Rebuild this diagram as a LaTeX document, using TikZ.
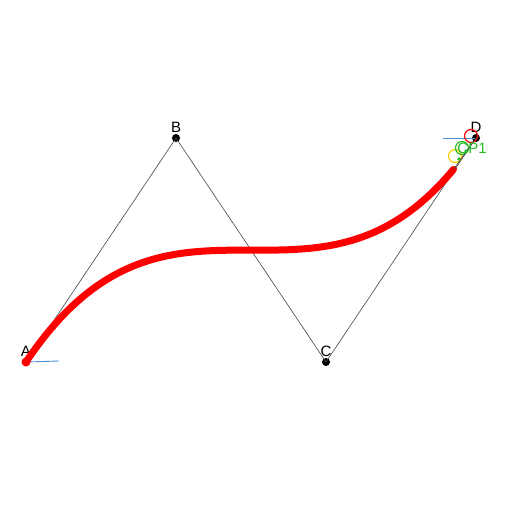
\documentclass[tikz,border=0pt]{standalone}
\usepackage{fontspec}
\setmainfont{Liberation Sans}
\usetikzlibrary{positioning}
\definecolor{curvered}{HTML}{FF0000}
\definecolor{tangentblue}{HTML}{4A90D9}
\definecolor{cpgreen}{HTML}{22BB22}
\definecolor{cpyellow}{HTML}{FFCC00}
\definecolor{polygray}{HTML}{444444}

\begin{document}
\begin{tikzpicture}[
  x=1pt, y=-1pt,
  font=\fontsize{15}{15}\selectfont,
  ptdot/.style={circle, fill=black, inner sep=0pt, minimum size=8pt},
  ptlabel/.style={inner sep=1pt, anchor=south},
  polyline/.style={draw=polygray, line width=0.6pt},
  tangent/.style={draw=tangentblue, line width=0.9pt},
  cpring/.style={circle, draw, line width=1.2pt, inner sep=0pt, minimum size=13pt}
]
  \useasboundingbox (0,0) rectangle (510,508);

  % --- control points ---
  \node[ptdot] (A) at (26,362) {};
  \node[ptdot] (B) at (176,138) {};
  \node[ptdot] (C) at (326,362) {};
  \node[ptdot] (D) at (476,138) {};

  \node[ptlabel] at (26,358) {A};
  \node[ptlabel] at (176,134) {B};
  \node[ptlabel] at (326,358) {C};
  \node[ptlabel] at (476,134) {D};

  % --- control polygon ---
  \draw[polyline] (A.center) -- (B.center) -- (C.center) -- (D.center);

  % --- tangents ---
  \coordinate (tA) at (59,361);
  \coordinate (tD) at (443,138);
  \draw[tangent] (A.center) -- (tA);
  \draw[tangent] (D.center) -- (tD);

  % --- curve, cut at t = 0.95 ---
  \coordinate (cEnd) at (453.5,169.4);
  \draw[curvered, line width=7pt, line cap=round]
    (A.center) .. controls (168.5,149.2) and (311,340.7) .. (cEnd);
  \fill[curvered] (A.center) circle (4.5pt);

  % --- markers near D ---
  \node[cpring, draw=cpyellow] (cp0) at (455,156) {};
  \node[cpring, draw=cpgreen] (cp1) at (462,148) {};
  \node[cpring, draw=curvered] (cp2) at (471,136) {};
  \draw[polygray, line width=0.6pt] (cEnd) -- (D.center);
  \fill[cpgreen] (459,159) circle (1.8pt);
  \fill[cpgreen] (466,151) circle (1.8pt);
  \node[text=cpgreen, inner sep=0pt] at (472,148) {CP1};
\end{tikzpicture}
\end{document}
